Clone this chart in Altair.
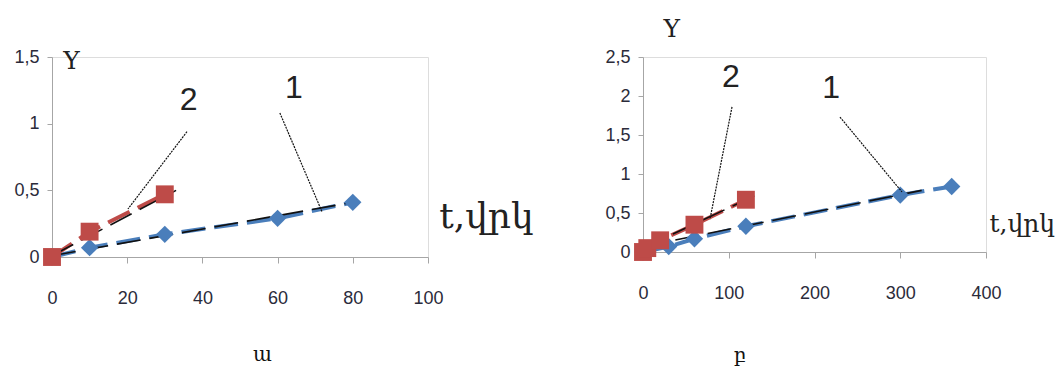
import altair as alt
import pandas as pd

# ---- panel ա (left) data ----
a_t1 = [0, 10, 30, 60, 80]
a_y1 = [0.0, 0.07, 0.17, 0.29, 0.41]
a_t2 = [0, 10, 30]
a_y2 = [0.0, 0.19, 0.47]
a_trend1_t = [0, 80]
a_trend1_y = [0.01, 0.41]
a_trend2_t = [0, 33]
a_trend2_y = [0.01, 0.50]

# ---- panel բ (right) data ----
b_t1 = [0, 30, 60, 120, 300, 360]
b_y1 = [0.0, 0.07, 0.17, 0.33, 0.73, 0.84]
b_t2 = [0, 5, 20, 60, 120]
b_y2 = [0.0, 0.05, 0.15, 0.35, 0.67]
b_trend1_t = [0, 325]
b_trend1_y = [0.07, 0.79]
b_trend2_t = [0, 130]
b_trend2_y = [0.05, 0.72]

BLUE = "#4A7EBB"
RED = "#BE4B48"
DASH = [24, 9]
SERIF = "DejaVu Serif"
SANS = "Liberation Sans"
TICKFONT = "Liberation Sans"


def panel(t1, y1, t2, y2, tr1t, tr1y, tr2t, tr2y, xdom, xtc, ydom, ytc,
          w, h, ann, leaders, caption):
    xs = alt.Scale(domain=xdom, nice=False, zero=False)
    ys = alt.Scale(domain=ydom, nice=False, zero=False)
    xax = alt.Axis(tickCount=xtc, grid=False, domainColor="#a6a6a6", tickColor="#a6a6a6",
                   tickSize=6, labelPadding=26, labelFont=TICKFONT, labelFontSize=18,
                   labelColor="#2b2b3a", title=None, labelOverlap=False, labelFlush=False)
    yax = alt.Axis(tickCount=ytc, grid=False, domainColor="#a6a6a6", tickColor="#a6a6a6",
                   tickSize=5, labelPadding=8, labelFont=TICKFONT, labelFontSize=18,
                   labelColor="#2b2b3a", title=None, labelOverlap=False, labelFlush=False,
                   labelExpr="replace(toString(datum.value), '.', ',')")
    d1 = pd.DataFrame({"t": t1, "y": y1})
    d2 = pd.DataFrame({"t": t2, "y": y2})
    tr1 = pd.DataFrame({"t": tr1t, "y": tr1y})
    tr2 = pd.DataFrame({"t": tr2t, "y": tr2y})

    base_x = alt.X("t:Q", scale=xs, axis=xax)
    base_y = alt.Y("y:Q", scale=ys, axis=yax)

    l1 = alt.Chart(d1).mark_line(color=BLUE, strokeWidth=4, strokeDash=DASH).encode(x=base_x, y=base_y)
    l2 = alt.Chart(d2).mark_line(color=RED, strokeWidth=4, strokeDash=DASH).encode(x="t:Q", y="y:Q")
    p1 = alt.Chart(d1).mark_point(shape="diamond", filled=True, size=300, color=BLUE, opacity=1).encode(x="t:Q", y="y:Q")
    p2 = alt.Chart(d2).mark_point(shape="square", filled=True, size=320, color=RED, opacity=1).encode(x="t:Q", y="y:Q")
    t1l = alt.Chart(tr1).mark_line(color="#111", strokeWidth=1.6, strokeDash=DASH).encode(x="t:Q", y="y:Q")
    t2l = alt.Chart(tr2).mark_line(color="#111", strokeWidth=1.6, strokeDash=DASH).encode(x="t:Q", y="y:Q")

    ld = pd.DataFrame(leaders, columns=["x", "y", "x2", "y2"])
    lead = alt.Chart(ld).mark_rule(color="#111", strokeWidth=1.2, strokeDash=[2, 1]).encode(
        x="x:Q", y="y:Q", x2="x2:Q", y2="y2:Q")

    an = pd.DataFrame(ann, columns=["x", "y", "txt", "font", "size", "limit"])
    texts = []
    for _, r in an.iterrows():
        kw = {}
        if r["limit"] > 0:
            kw = {"limit": int(r["limit"]), "ellipsis": "\u200b"}
        texts.append(alt.Chart(pd.DataFrame([r])).mark_text(
            font=r["font"], fontSize=int(r["size"]), color="#222", align="left",
            baseline="middle", **kw).encode(x="x:Q", y="y:Q", text="txt:N"))

    cap = alt.Chart(pd.DataFrame([caption], columns=["x", "y", "txt"])).mark_text(
        font=SERIF, fontSize=20, color="#111", align="center", baseline="middle"
    ).encode(x="x:Q", y="y:Q", text="txt:N")

    return alt.layer(l1, l2, t1l, t2l, p1, p2, lead, *texts, cap).properties(width=w, height=h)


left = panel(
    a_t1, a_y1, a_t2, a_y2, a_trend1_t, a_trend1_y, a_trend2_t, a_trend2_y,
    [0, 100], 5, [0, 1.5], 3, 376, 200,
    [(3, 1.47, "Y", SERIF, 25, 0), (34, 1.18, "2", SANS, 32, 0), (62, 1.27, "1", SANS, 32, 0),
     (103, 0.3, "t,վրկ", SERIF, 36, 0)],
    [(35.9, 0.94, 20.2, 0.36), (60.6, 1.08, 71.8, 0.34)],
    (56, -0.735, "ա"),
)

right = panel(
    b_t1, b_y1, b_t2, b_y2, b_trend1_t, b_trend1_y, b_trend2_t, b_trend2_y,
    [0, 400], 4, [0, 2.5], 5, 343, 195,
    [(24, 2.86, "Y", SERIF, 25, 0), (92, 2.24, "2", SANS, 32, 0), (209, 2.1, "1", SANS, 32, 0),
     (404, 0.36, "t,վրկ", SERIF, 25, 66)],
    [(103.8, 1.86, 78.1, 0.42), (229.7, 1.73, 302, 0.77)],
    (113, -1.336, "բ"),
)

chart = alt.hconcat(left, right, spacing=215, bounds="flush").properties(
    padding={"left": 5, "top": 8, "right": 0, "bottom": 0}
).configure_view(stroke=None).configure(background="white")

chart.save("out.html", embed_options={"renderer": "svg", "actions": False})
